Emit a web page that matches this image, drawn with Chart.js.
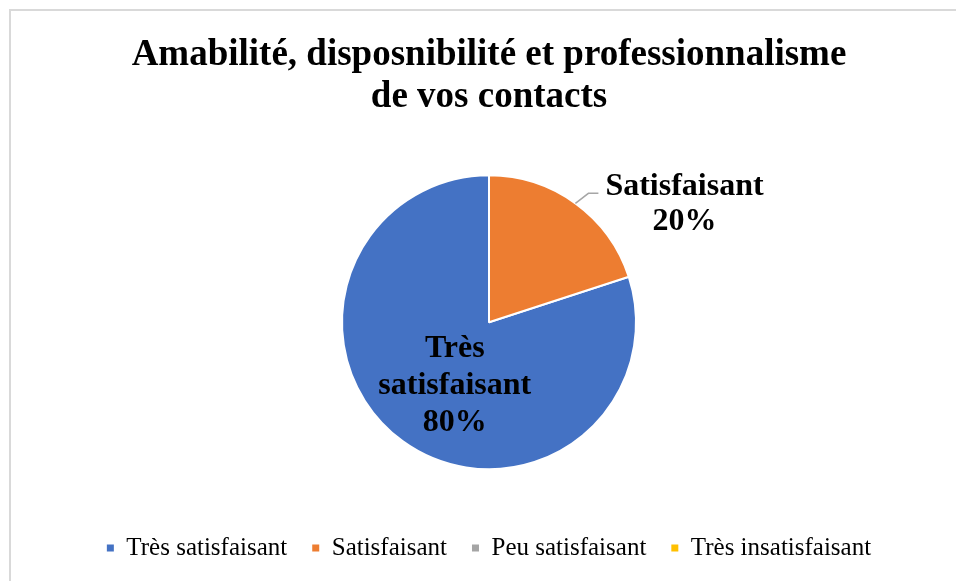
<!DOCTYPE html>
<html>
<head>
<meta charset="utf-8">
<script src="https://cdn.jsdelivr.net/npm/chart.js@4"></script>
<style>
html, body { margin: 0; padding: 0; background: #fff; }
#cadre { width: 956px; height: 581px; }
</style>
</head>
<body>
<div id="cadre"><canvas id="graphique"></canvas></div>
<script>
var categories = ['Très satisfaisant', 'Satisfaisant', 'Peu satisfaisant', 'Très insatisfaisant'];
var valeurs = [80, 20, 0, 0];
var couleurs = ['#4472C4', '#ED7D31', '#A5A5A5', '#FFC000'];
var titre = ['Amabilité, disposnibilité et professionnalisme', 'de vos contacts'];

var police = "'Liberation Serif', 'Times New Roman', serif";

// cadre gris clair autour du graphique
var cadrePlugin = {
  id: 'cadre',
  beforeDraw: function(chart){
    var ctx = chart.ctx;
    ctx.save();
    ctx.fillStyle = '#fff';
    ctx.fillRect(0, 0, chart.width, chart.height);
    ctx.strokeStyle = '#d9d9d9';
    ctx.lineWidth = 2;
    ctx.strokeRect(10, 10, chart.width + 50, chart.height + 50);
    ctx.restore();
  }
};

function couper(ctx, texte, largeurMax){
  var mots = texte.split(' ');
  var lignes = [];
  var ligne = '';
  mots.forEach(function(m){
    var essai = ligne ? ligne + ' ' + m : m;
    if (ligne && ctx.measureText(essai).width > largeurMax) {
      lignes.push(ligne);
      ligne = m;
    } else {
      ligne = essai;
    }
  });
  if (ligne) lignes.push(ligne);
  return lignes;
}

// etiquettes de donnees (nom + pourcentage)
var etiquettesPlugin = {
  id: 'etiquettes',
  afterDatasetsDraw: function(chart){
    var ctx = chart.ctx;
    var meta = chart.getDatasetMeta(0);
    var total = valeurs.reduce(function(a, b){ return a + b; }, 0);
    ctx.save();
    ctx.font = 'bold 32px ' + police;
    ctx.fillStyle = '#000';
    ctx.textBaseline = 'middle';
    ctx.textAlign = 'center';
    meta.data.forEach(function(arc, i){
      if (!valeurs[i]) return;
      var p = arc.getProps(['x', 'y', 'startAngle', 'endAngle', 'outerRadius'], true);
      var mid = (p.startAngle + p.endAngle) / 2;
      var part = valeurs[i] / total;
      var lignes = couper(ctx, categories[i], 180);
      lignes.push(Math.round(part * 100) + '%');
      var hl = 37;
      if (part > 0.5) {
        var cx = p.x + Math.cos(mid) * p.outerRadius * 0.5 + 9;
        var cy = p.y + Math.sin(mid) * p.outerRadius * 0.5 + 4;
        lignes.forEach(function(l, k){
          ctx.fillText(l, cx, cy + (k - (lignes.length - 1) / 2) * hl);
        });
      } else {
        var ex = p.x + Math.cos(mid) * p.outerRadius;
        var ey = p.y + Math.sin(mid) * p.outerRadius;
        var kx = ex + 13, ky = ey - 10;
        var fx = kx + 10;
        ctx.strokeStyle = '#a6a6a6';
        ctx.lineWidth = 1.5;
        ctx.beginPath();
        ctx.moveTo(ex, ey);
        ctx.lineTo(kx, ky);
        ctx.lineTo(fx, ky);
        ctx.stroke();
        var larg = 0;
        lignes.forEach(function(l){ larg = Math.max(larg, ctx.measureText(l).width); });
        var tx = fx + 7 + larg / 2;
        lignes.forEach(function(l, k){
          ctx.fillText(l, tx, ky - 7 + k * 35);
        });
      }
    });
    ctx.restore();
  }
};

var ctx = document.getElementById('graphique');
var chart = new Chart(ctx, {
  type: 'pie',
  data: {
    labels: categories,
    datasets: [{
      data: valeurs,
      backgroundColor: couleurs,
      borderColor: '#fff',
      borderWidth: 2,
      radius: 147
    }]
  },
  options: {
    responsive: true,
    maintainAspectRatio: false,
    devicePixelRatio: 1,
    animation: false,
    events: [],
    rotation: 72,
    layout: { padding: { left: 22, right: 0, top: 0, bottom: 10.5 } },
    plugins: {
      tooltip: { enabled: false },
      title: {
        display: true,
        text: titre,
        color: '#000',
        font: { family: police, size: 37, weight: 'bold', lineHeight: 1.135 },
        padding: { top: 34, bottom: 16 }
      },
      legend: {
        display: true,
        position: 'bottom',
        labels: {
          color: '#000',
          font: { family: police, size: 25 },
          boxWidth: 7,
          boxHeight: 7,
          padding: 25,
          generateLabels: function(chart){
            return categories.map(function(c, i){
              return { text: c, fillStyle: couleurs[i], strokeStyle: couleurs[i], lineWidth: 0, hidden: false, index: i };
            });
          }
        }
      }
    }
  },
  plugins: [cadrePlugin, etiquettesPlugin]
});
</script>
</body>
</html>
